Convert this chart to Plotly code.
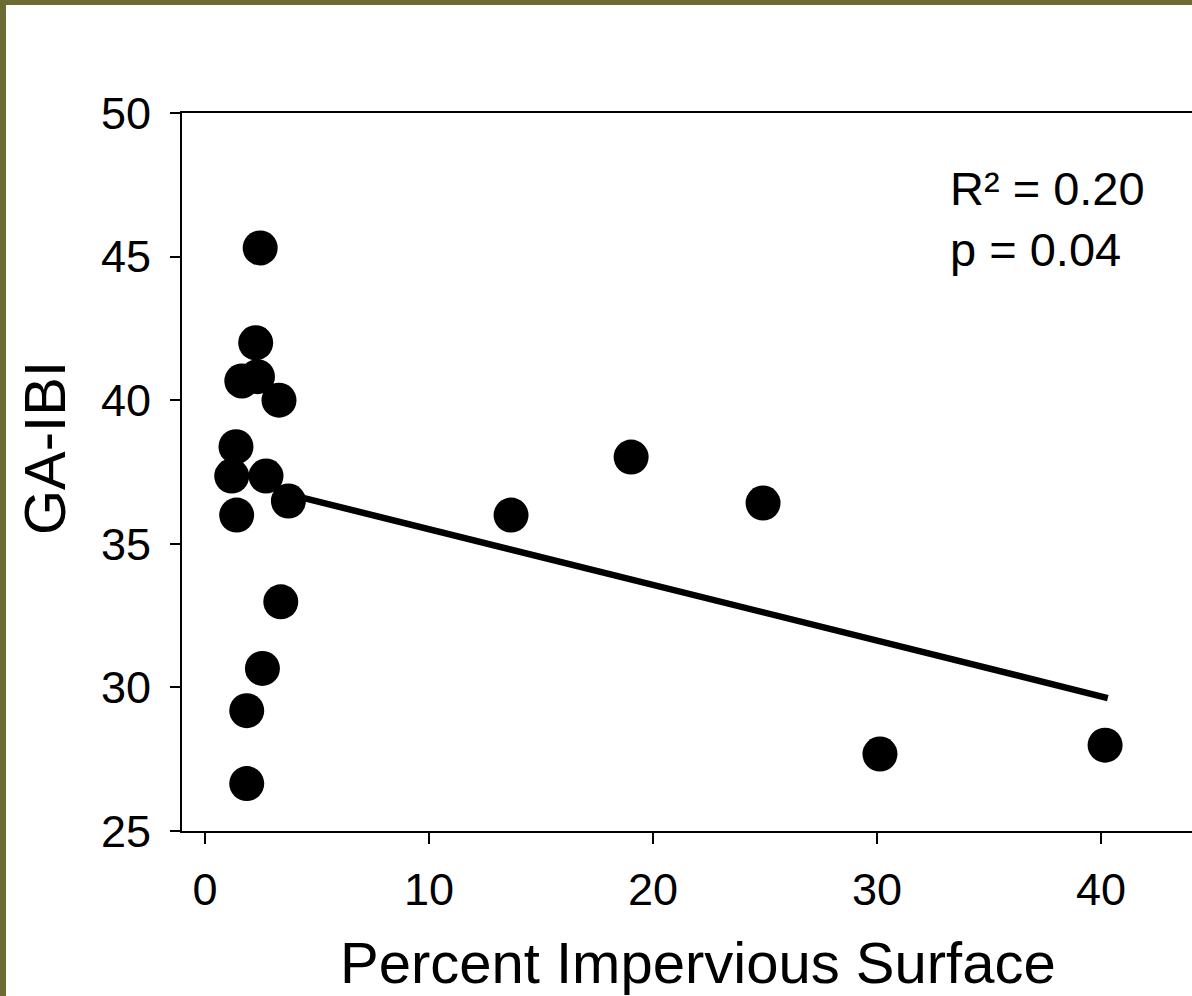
import plotly.graph_objects as go

# Percent impervious surface vs GA-IBI
impervious = [2.46, 2.26, 1.64, 2.34, 3.30, 1.38, 1.19, 2.72, 3.72, 1.41,
              3.38, 2.56, 1.86, 1.86, 13.66, 19.02, 24.91, 30.13, 40.18]
ga_ibi = [45.3, 42.0, 40.67, 40.82, 40.0, 38.38, 37.36, 37.36, 36.49, 36.0,
          32.98, 30.66, 29.19, 26.65, 36.0, 38.02, 36.42, 27.68, 27.99]

# regression line end points
fit_x = [3.7, 40.3]
fit_y = [36.73, 29.63]

x_ticks = [0, 10, 20, 30, 40]
y_ticks = [25, 30, 35, 40, 45, 50]

_FONT = "Liberation Sans, Arial, sans-serif"
_OLIVE = "#6B6B33"

W, H = 1192, 996
L, R, T, B = 182, 0, 113, 165
PW, PH = W - L - R, H - T - B


def px_x(px):
    return (px - L) / PW


def px_y(py):
    return (H - B - py) / PH


fig = go.Figure()
fig.add_trace(go.Scatter(
    x=fit_x, y=fit_y, mode="lines",
    line={"color": "black", "width": 6.5},
    hoverinfo="skip",
))
fig.add_trace(go.Scatter(
    x=impervious, y=ga_ibi, mode="markers",
    marker={"color": "black", "size": 35, "line": {"width": 0}},
))

fig.update_layout(
    width=W, height=H,
    margin={"l": L, "r": R, "t": T, "b": B, "pad": 0},
    paper_bgcolor="white", plot_bgcolor="white",
    font={"family": _FONT, "color": "black", "size": 44},
    showlegend=False,
    xaxis={
        "range": [-1.03, 44.06], "tickvals": x_ticks,
        "showgrid": False, "zeroline": False,
        "showline": True, "linecolor": "black", "linewidth": 2, "mirror": True,
        "ticks": "outside", "ticklen": 11, "tickwidth": 2, "tickcolor": "black",
        "tickfont": {"size": 45}, "ticklabelstandoff": 7,
    },
    yaxis={
        "range": [25, 50], "tickvals": y_ticks,
        "showgrid": False, "zeroline": False,
        "showline": True, "linecolor": "black", "linewidth": 2,
        "ticks": "outside", "ticklen": 10, "tickwidth": 2, "tickcolor": "black",
        "tickfont": {"size": 45}, "ticklabelstandoff": 10,
    },
    annotations=[
        {"text": "R² = 0.20<br>p = 0.04", "xref": "paper", "yref": "paper",
         "x": px_x(948), "y": px_y(160), "xanchor": "left", "yanchor": "top",
         "align": "left", "showarrow": False, "font": {"size": 47}},
        {"text": "Percent Impervious Surface", "xref": "paper", "yref": "paper",
         "x": px_x(698), "y": px_y(963), "xanchor": "center", "yanchor": "middle",
         "showarrow": False, "font": {"size": 58}},
        {"text": "GA-IBI", "xref": "paper", "yref": "paper", "textangle": -90,
         "x": px_x(45), "y": px_y(448), "xanchor": "center", "yanchor": "middle",
         "showarrow": False, "font": {"size": 58}},
    ],
    shapes=[
        # olive frame strips on top and left of the slide
        {"type": "rect", "xref": "paper", "yref": "paper", "layer": "above",
         "x0": px_x(0), "x1": px_x(W), "y0": px_y(0), "y1": px_y(5),
         "fillcolor": _OLIVE, "line": {"width": 0}},
        {"type": "rect", "xref": "paper", "yref": "paper", "layer": "above",
         "x0": px_x(0), "x1": px_x(6), "y0": px_y(0), "y1": px_y(H),
         "fillcolor": _OLIVE, "line": {"width": 0}},
    ],
)

fig.write_html("out.html", config={"displayModeBar": False},
               post_script="document.body.style.margin='0';")
